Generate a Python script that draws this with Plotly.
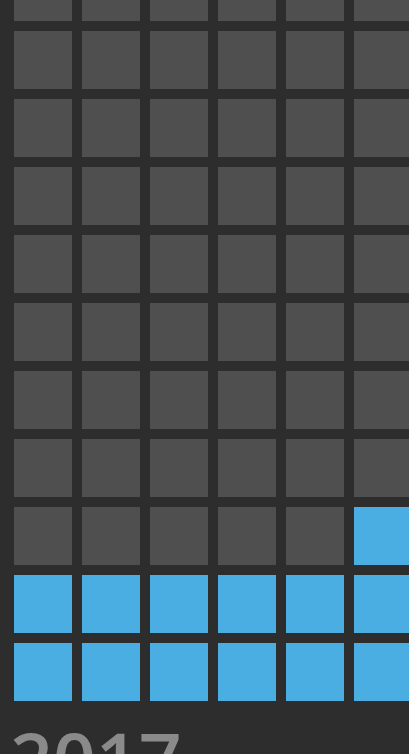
import plotly.graph_objects as go

# Waffle data (visible portion): rows listed from bottom to top,
# number of highlighted cells in each row (filled from the right side)
year_label = "2017"
n_cols = 6
n_rows = 11
filled_per_row = [6, 6, 1, 0, 0, 0, 0, 0, 0, 0, 0]

z = []
for r in range(n_rows):
    k = filled_per_row[r]
    z.append([1 if c >= n_cols - k else 0 for c in range(n_cols)])

BG = "#2d2d2d"
GRAY = "#4f4f4f"
BLUE = "#4aaee2"

fig = go.Figure(
    go.Heatmap(
        z=z,
        x=list(range(n_cols)),
        y=list(range(n_rows)),
        colorscale=[[0, GRAY], [0.5, GRAY], [0.5, BLUE], [1, BLUE]],
        zmin=0,
        zmax=1,
        showscale=False,
        xgap=10,
        ygap=10,
        hoverinfo="skip",
    )
)

W, H = 409, 754
fig.update_layout(
    width=W,
    height=H,
    margin=dict(l=0, r=0, t=0, b=0),
    paper_bgcolor=BG,
    plot_bgcolor=BG,
    xaxis=dict(range=[-0.5 - 9 / 68, -0.5 + 400 / 68], visible=False, fixedrange=True),
    yaxis=dict(range=[(672 - 754) / 68, 672 / 68], visible=False, fixedrange=True),
    showlegend=False,
    annotations=[
        dict(
            text=year_label,
            xref="paper",
            yref="paper",
            x=8 / W,
            y=(H - 705) / H,
            xanchor="left",
            yanchor="top",
            showarrow=False,
            font=dict(family="Open Sans", size=75, color="#8a8a8a", weight=600),
        )
    ],
)

fig.write_html(
    "out.html",
    config={"displayModeBar": False},
    post_script="document.body.style.margin='0';document.body.style.overflow='hidden';"
    "document.body.style.background='#2d2d2d';",
)
